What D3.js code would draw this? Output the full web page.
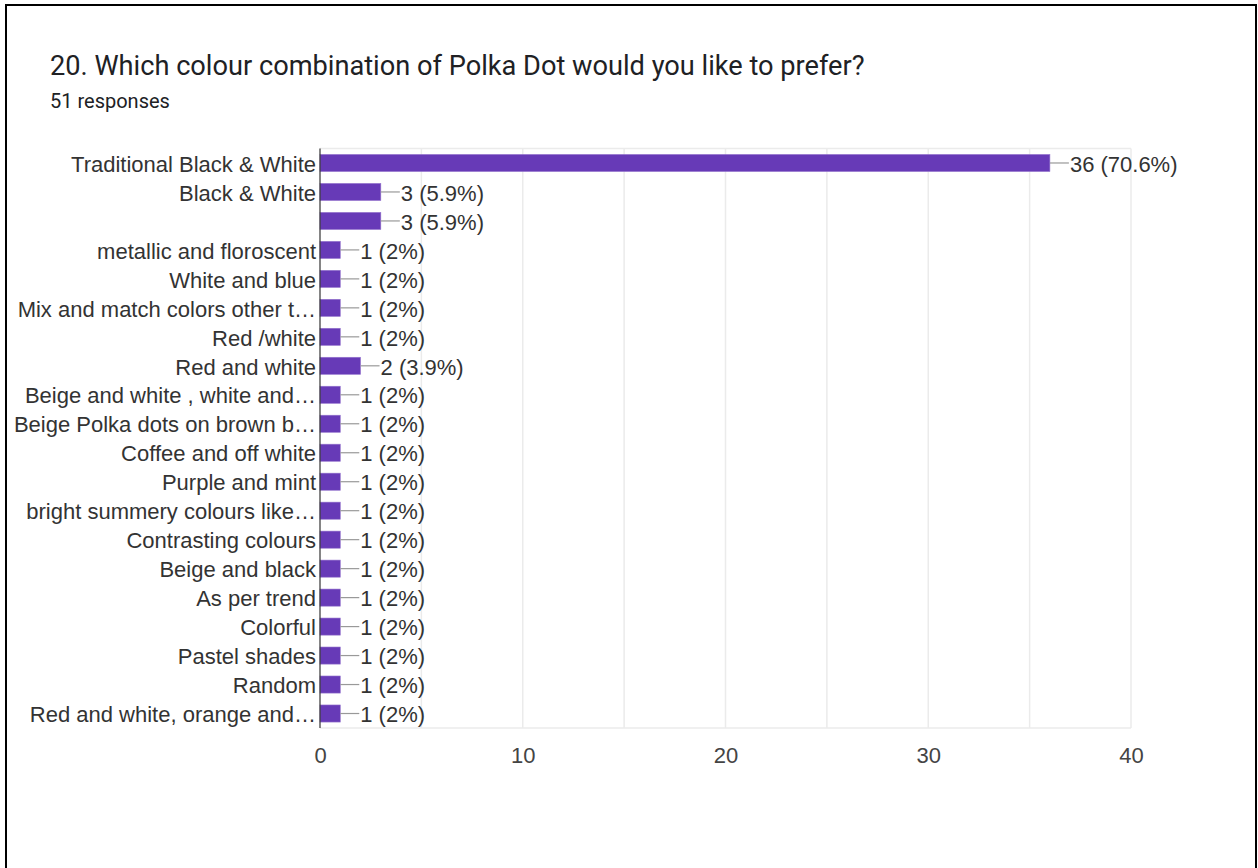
<!DOCTYPE html>
<html>
<head>
<meta charset="utf-8">
<script src="https://cdn.jsdelivr.net/npm/d3@7"></script>
<style>
  html, body { margin: 0; padding: 0; background: #fff; }
  svg { display: block; }
</style>
</head>
<body>
<svg id="chart" width="1258" height="868"></svg>
<script>
const title = "20. Which colour combination of Polka Dot would you like to prefer?";
const subtitle = "51 responses";
const categories = [
  "Traditional Black & White",
  "Black & White",
  "",
  "metallic and floroscent",
  "White and blue",
  "Mix and match colors other t\u2026",
  "Red /white",
  "Red and white",
  "Beige and white , white and\u2026",
  "Beige Polka dots on brown b\u2026",
  "Coffee and off white",
  "Purple and mint",
  "bright summery colours like\u2026",
  "Contrasting colours",
  "Beige and black",
  "As per trend",
  "Colorful",
  "Pastel shades",
  "Random",
  "Red and white, orange and\u2026"
];
const counts = [36, 3, 3, 1, 1, 1, 1, 2, 1, 1, 1, 1, 1, 1, 1, 1, 1, 1, 1, 1];
const percents = ["70.6%", "5.9%", "5.9%", "2%", "2%", "2%", "2%", "3.9%", "2%", "2%", "2%", "2%", "2%", "2%", "2%", "2%", "2%", "2%", "2%", "2%"];
const xTickLabels = [0, 10, 20, 30, 40];
const gridValues = [5, 10, 15, 20, 25, 30, 35, 40];

const svg = d3.select("#chart");

// frame
svg.append("rect").attr("x", 6).attr("y", 5).attr("width", 1250).attr("height", 880)
  .attr("fill", "#fff").attr("stroke", "#000").attr("stroke-width", 2);

svg.append("text").attr("x", 50).attr("y", 75)
  .attr("font-family", "Roboto, 'Liberation Sans', Arial, sans-serif")
  .attr("font-size", 27.2).attr("fill", "#202124").text(title);
svg.append("text").attr("x", 50).attr("y", 108)
  .attr("font-family", "Roboto, 'Liberation Sans', Arial, sans-serif")
  .attr("font-size", 20).attr("fill", "#202124").text(subtitle);

const pLeft = 320, pRight = 1131, pTop = 148.5, pBottom = 728;
const x = d3.scaleLinear().domain([0, 40]).range([pLeft, pRight]);
const y = d3.scaleBand().domain(d3.range(categories.length)).range([pTop, pBottom])
  .paddingInner(0.41).paddingOuter(0.205);

const font = "'Liberation Sans', Arial, sans-serif";
const fs = 22;

// grid
const g = svg.append("g");
g.selectAll("line.grid").data(gridValues).join("line")
  .attr("x1", d => x(d)).attr("x2", d => x(d))
  .attr("y1", pTop).attr("y2", pBottom)
  .attr("stroke", "#ebebeb").attr("stroke-width", 1.5);
g.append("line").attr("x1", pLeft).attr("x2", pRight).attr("y1", pTop).attr("y2", pTop)
  .attr("stroke", "#ebebeb").attr("stroke-width", 1.5);
g.append("line").attr("x1", pLeft).attr("x2", pRight).attr("y1", pBottom).attr("y2", pBottom)
  .attr("stroke", "#ebebeb").attr("stroke-width", 1.5);

// bars
const idx = d3.range(categories.length);
g.selectAll("rect.bar").data(idx).join("rect")
  .attr("x", x(0)).attr("y", i => y(i))
  .attr("width", i => x(counts[i]) - x(0)).attr("height", y.bandwidth())
  .attr("fill", "#673ab7").attr("stroke", "#9575cd").attr("stroke-width", 0.6);

// leader lines
g.selectAll("line.lead").data(idx).join("line")
  .attr("x1", i => x(counts[i])).attr("x2", i => x(counts[i]) + 19)
  .attr("y1", i => y(i) + y.bandwidth() / 2).attr("y2", i => y(i) + y.bandwidth() / 2)
  .attr("stroke", "#999").attr("stroke-width", 1.2);

// value labels
g.selectAll("text.val").data(idx).join("text")
  .attr("x", i => x(counts[i]) + 20)
  .attr("y", i => y(i) + y.bandwidth() / 2 + 1)
  .attr("dy", "0.35em")
  .attr("font-family", font).attr("font-size", fs).attr("fill", "#333")
  .text(i => `${counts[i]} (${percents[i]})`);

// category labels
g.selectAll("text.cat").data(idx).join("text")
  .attr("x", pLeft - 4)
  .attr("y", i => y(i) + y.bandwidth() / 2 + 1)
  .attr("dy", "0.35em").attr("text-anchor", "end")
  .attr("font-family", font).attr("font-size", fs).attr("fill", "#333")
  .text(i => categories[i]);

// y axis line
g.append("line").attr("x1", pLeft).attr("x2", pLeft).attr("y1", pTop).attr("y2", pBottom)
  .attr("stroke", "#333").attr("stroke-width", 1.2);

// x tick labels
const xAxis = d3.axisBottom(x).tickValues(xTickLabels).tickSize(0).tickPadding(0);
const ax = svg.append("g").attr("transform", `translate(0,${pBottom + 27})`).call(xAxis);
ax.select(".domain").remove();
ax.selectAll("text").attr("font-family", font).attr("font-size", fs).attr("fill", "#444")
  .attr("y", 0).attr("dy", "0.35em");
</script>
</body>
</html>
